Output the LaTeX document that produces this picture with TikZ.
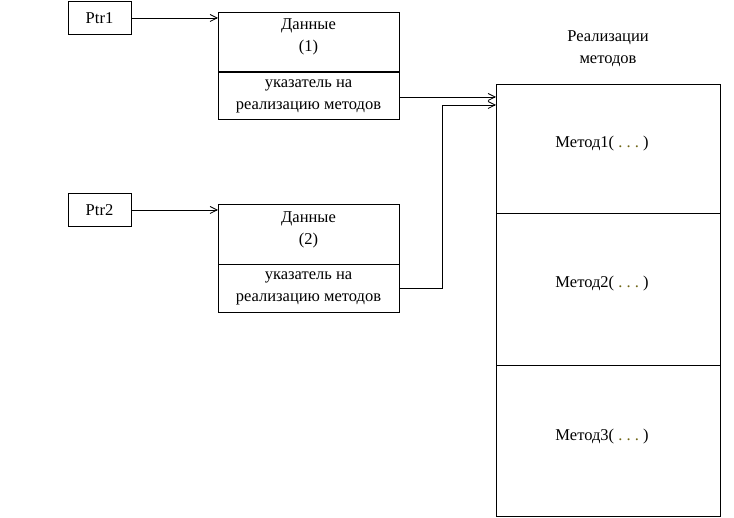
\documentclass[tikz,border=0pt]{standalone}
\usepackage{fontspec}
\setmainfont{Liberation Serif}
\usetikzlibrary{arrows.meta}
\definecolor{dots}{RGB}{110,100,20}
\begin{document}
\begin{tikzpicture}[x=1pt,y=-1pt,line width=0.8pt,
  box/.style={draw,inner sep=0},
  lbl/.style={font=\fontsize{16.5}{22}\selectfont,align=center,inner sep=0},
  arr/.style={-{Straight Barb[length=7pt,width=7pt]}}]
\useasboundingbox (0,0) rectangle (734,518);
\node[box,minimum width=63,minimum height=33,lbl] (p1) at (99.5,18) {Ptr1};
\node[box,minimum width=63,minimum height=33,lbl] (p2) at (99.5,210) {Ptr2};
\draw (218,12) rectangle (399,119);
\draw[line width=1.8pt] (218,72) -- (399,72);
\node[lbl] (d1) at (308.5,37) {Данные\\(1)};
\node[lbl] (u1) at (308.5,96) {указатель на\\реализацию методов};
\draw (218,204) rectangle (399,312);
\draw (218,264) -- (399,264);
\node[lbl] (d2) at (308.5,230) {Данные\\(2)};
\node[lbl] (u2) at (308.5,288) {указатель на\\реализацию методов};
\draw (496,84) rectangle (720,516);
\draw (496,213) -- (720,213) (496,365) -- (720,365);
\node[lbl] (h) at (608,49) {Реализации\\методов};
\node[lbl] (m1) at (602,144) {Метод1(\textcolor{dots}{\ .\ .\ .\ })};
\node[lbl] (m2) at (602,284) {Метод2(\textcolor{dots}{\ .\ .\ .\ })};
\node[lbl] (m3) at (602,437) {Метод3(\textcolor{dots}{\ .\ .\ .\ })};
\coordinate (a1) at (218,18);
\coordinate (a2) at (218,210);
\coordinate (b1) at (496,97);
\coordinate (b2) at (496,105);
\draw[arr] (p1.east) -- (a1);
\draw[arr] (p2.east) -- (a2);
\draw[arr] (399,97) -- (b1);
\draw[arr] (399,288) -- (442,288) -- (442,105) -- (b2);
\end{tikzpicture}
\end{document}
